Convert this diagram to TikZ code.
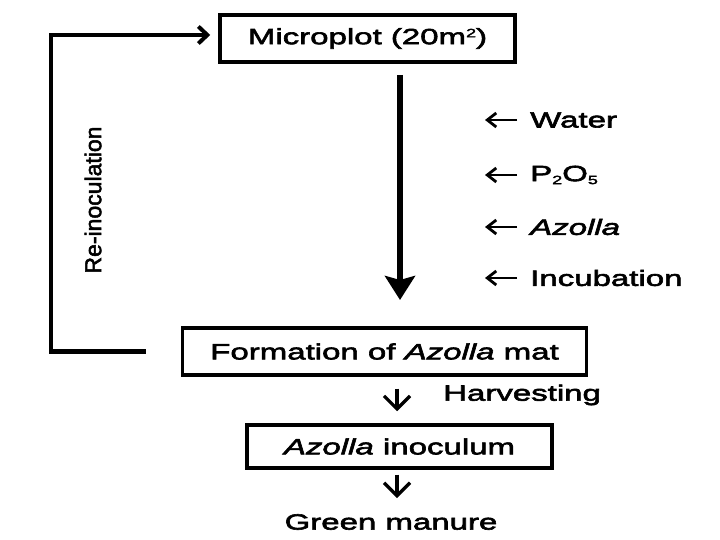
\documentclass[tikz,border=0pt]{standalone}
\usepackage{fontspec}
\setmainfont{Liberation Sans}[FakeStretch=1.5,FakeBold=2.8]
\newfontfamily\condfont{Liberation Sans}[FakeBold=2.2]
\usetikzlibrary{arrows.meta}
\newcommand{\mysup}[1]{\raisebox{7pt}{\fontsize{12}{12}\selectfont #1}}
\newcommand{\mysub}[1]{\raisebox{-3pt}{\fontsize{12}{12}\selectfont #1}}
\tikzset{
  box/.style={draw,line width=3.5pt,inner sep=0pt,font=\fontsize{22}{26}\selectfont},
  lbl/.style={inner sep=0pt,font=\fontsize{22}{26}\selectfont},
  mainarrow/.style={line width=5.5pt,-{Stealth[width=30pt,length=24pt,inset=4pt]}},
  fbarrow/.style={line width=4.5pt,-{Straight Barb[width=17pt,length=9pt,line width=4pt]}},
  smallarrow/.style={line width=3.2pt,-{Straight Barb[width=26pt,length=13pt,line width=3.2pt]}},
  sidearrow/.style={line width=2.8pt,-{Straight Barb[width=14pt,length=9pt,line width=2.8pt]}}
}
\begin{document}
\begin{tikzpicture}[x=1pt,y=1pt]
\useasboundingbox[fill=white] (0,0) rectangle (720,540);
\node[box,minimum width=295pt,minimum height=47pt] (micro) at (367.5,501.5) {Microplot (20m\mysup{2})};
\node[box,minimum width=404pt,minimum height=47pt] (form) at (384.5,188.5) {Formation of \textit{Azolla} mat};
\node[box,minimum width=305pt,minimum height=43pt] (inoc) at (399.5,93.5) {\textit{Azolla} inoculum};
\node[lbl] (green) at (391,18) {Green manure};
\node[lbl,anchor=west] (harv) at (443,145) {Harvesting};
\node[inner sep=0pt,rotate=90,font=\condfont\fontsize{23}{26}\selectfont] (reinoc) at (93,340) {Re-inoculation};
% inputs
\node[lbl,anchor=west] (water) at (530,420) {Water};
\node[lbl,anchor=west] (p2o5) at (530,365) {P\mysub{2}O\mysub{5}};
\node[lbl,anchor=west] (azolla) at (530,313) {\textit{Azolla}};
\node[lbl,anchor=west] (incub) at (530,262) {Incubation};
\foreach \n in {water,p2o5,azolla,incub}{
  \draw[sidearrow] ([xshift=-13pt]\n.west) -- ([xshift=-45pt]\n.west);
}
% main arrow
\coordinate (mtop) at (400,465);
\coordinate (mbot) at (400,240);
\draw[mainarrow] (mtop) -- (mbot);
% feedback
\coordinate (fbl) at (51,188.5);
\draw[fbarrow] ([xshift=-35pt]form.west) -- (fbl) |- ([xshift=-8pt,yshift=3.5pt]micro.west);
% small arrows
\draw[smallarrow] ([yshift=-12pt]form.south -| 397,0) -- ([yshift=12pt]inoc.north -| 397,0);
\draw[smallarrow] ([yshift=-5pt]inoc.south -| 397,0) -- ([yshift=16pt]green.north -| 397,0);
\end{tikzpicture}
\end{document}
